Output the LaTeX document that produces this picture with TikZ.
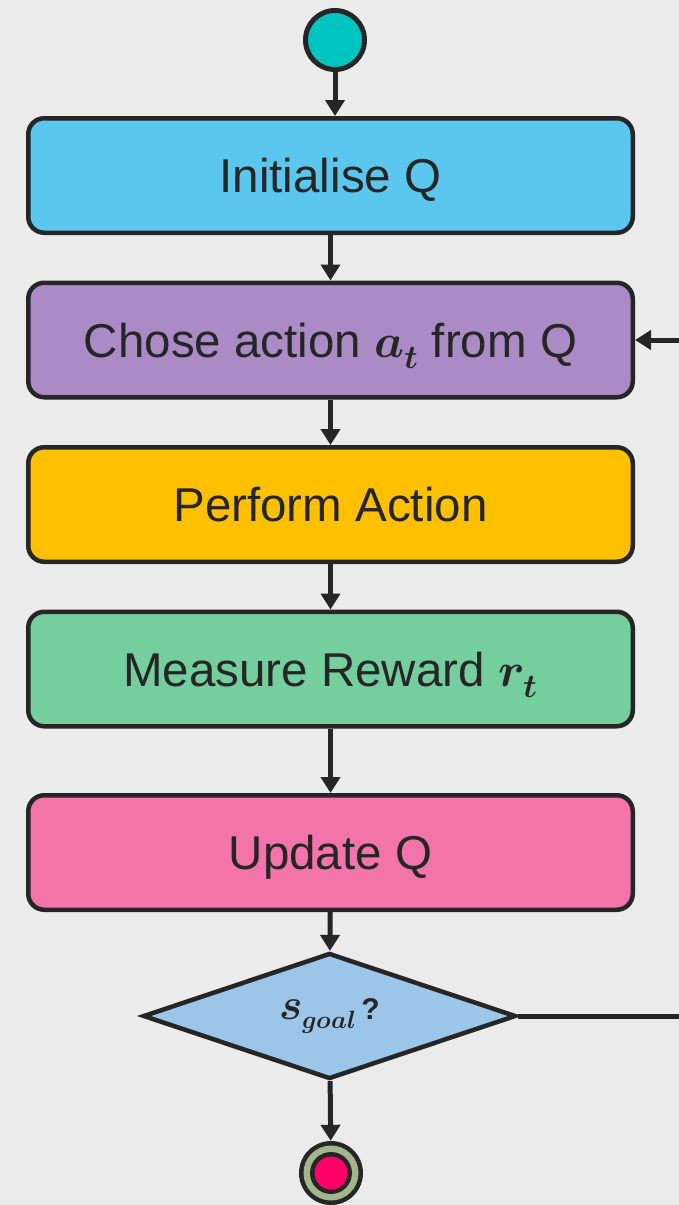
\documentclass[tikz,border=0pt]{standalone}
\usepackage{fontspec}
\usepackage{unicode-math}
\setmainfont{Liberation Sans}
\usetikzlibrary{shapes.geometric,arrows.meta}

\definecolor{bg}{HTML}{EBEBEB}
\definecolor{edge}{HTML}{262626}
\definecolor{boxA}{HTML}{5BC6EE}
\definecolor{boxB}{HTML}{AB8BC6}
\definecolor{boxC}{HTML}{FFC000}
\definecolor{boxD}{HTML}{75CE9E}
\definecolor{boxE}{HTML}{F374A8}
\definecolor{decfill}{HTML}{9BC6E8}
\definecolor{startfill}{HTML}{00C4C0}
\definecolor{ringfill}{HTML}{A4B48D}
\definecolor{dotfill}{HTML}{FF0066}

\tikzset{
  stepbox/.style={draw=edge, line width=4.5pt, rounded corners=16pt,
    minimum width=604.5pt, minimum height=114.5pt, inner sep=0pt,
    text height=34pt, text depth=0pt,
    text=edge, font=\fontsize{47.5}{56}\selectfont},
  decision/.style={diamond, draw=edge, line width=4.5pt, fill=decfill,
    minimum width=373pt, minimum height=126pt, inner sep=0pt, aspect=2.9,
    text=edge},
  startnode/.style={circle, draw=edge, line width=5pt, fill=startfill,
    minimum size=59pt, inner sep=0pt},
  endnode/.style={circle, fill=edge, minimum size=64pt, inner sep=0pt},
  flow/.style={draw=edge, line width=5pt, -{Triangle[length=16pt,width=19pt]}}
}

\begin{document}
\begin{tikzpicture}[x=1pt,y=-1pt]
\fill[bg] (0,0) rectangle (679,1205);
\clip (0,0) rectangle (679,1205);

% start state
\node[startnode] (start) at (335,40) {};

% process steps
\node[stepbox, fill=boxA] (init)    at (330.5,175.5) {Initialise Q};
\node[stepbox, fill=boxB] (choose)  at (330.5,340)   {Chose action $\symbfit{a}_{\symbfit{t}}$ from Q};
\node[stepbox, fill=boxC] (perform) at (330.5,504.5) {Perform Action};
\node[stepbox, fill=boxD] (measure) at (330.5,669)   {Measure Reward $\symbfit{r}_{\symbfit{t}}$};
\node[stepbox, fill=boxE] (update)  at (330.5,852.5) {Update Q};

% goal test
\node[decision] (goal) at (329.5,1016)
  {{\fontsize{44}{50}\selectfont$\symbfit{s}$}%
   {\fontsize{25}{30}\selectfont\raisebox{-9pt}{$\symbfit{goal}$}}%
   {\fontsize{30}{36}\selectfont\bfseries\,?}};

% final state
\node[endnode] (stop) at (331,1173) {};
\fill[ringfill] (stop.center) circle (27.5pt);
\fill[edge] (stop.center) circle (21pt);
\fill[dotfill] (stop.center) circle (16.5pt);

% connectors
\draw[flow] (start.south) -- (start.south |- init.north);
\draw[flow] (init) -- (choose);
\draw[flow] (choose) -- (perform);
\draw[flow] (perform) -- (measure);
\draw[flow] (measure) -- (update);
\draw[flow] (update) -- (goal);
\draw[flow] (goal) -- (stop);

% loop back to action choice
\coordinate (loopR) at (700,1016);
\coordinate (loopT) at (700,340);
\draw[flow] (goal.east) -- (loopR) -- (loopT) -- (choose.east);
\end{tikzpicture}
\end{document}
